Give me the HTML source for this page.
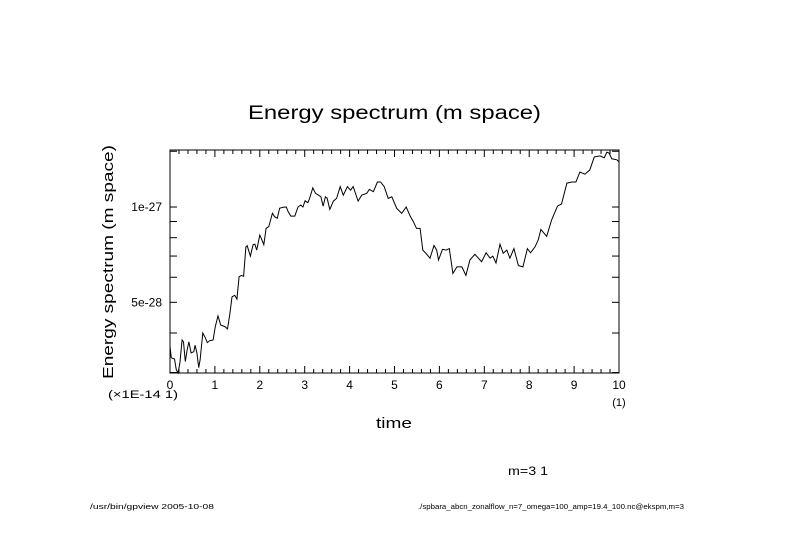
<!DOCTYPE html>
<html><head><meta charset="utf-8"><style>
html,body{margin:0;padding:0;background:#fff;}
svg{display:block;font-family:"Liberation Sans",sans-serif;}
</style></head><body>
<svg width="789" height="558" viewBox="0 0 789 558">
<text x="248" y="119" font-size="19" textLength="293" lengthAdjust="spacingAndGlyphs">Energy spectrum (m space)</text>
<text transform="translate(113,262) rotate(-90)" font-size="15" text-anchor="middle" textLength="234" lengthAdjust="spacingAndGlyphs">Energy spectrum (m space)</text>
<text x="376" y="428" font-size="15" textLength="36" lengthAdjust="spacingAndGlyphs">time</text>
<text x="108" y="398" font-size="11" textLength="70" lengthAdjust="spacingAndGlyphs">(×1E-14 1)</text>
<text x="619" y="406" font-size="11" text-anchor="middle">(1)</text>
<text x="508" y="475" font-size="12" textLength="40" lengthAdjust="spacingAndGlyphs">m=3 1</text>
<text x="90" y="509" font-size="7" textLength="124" lengthAdjust="spacingAndGlyphs">/usr/bin/gpview  2005-10-08</text>
<text x="418" y="509" font-size="7" textLength="266" lengthAdjust="spacingAndGlyphs">./spbara_abcn_zonalflow_n=7_omega=100_amp=19.4_100.nc@ekspm,m=3</text>
<g id="axes"></g>
<g id="plot"></g>
</svg>
<script>
const times=[0.0,0.03,0.10,0.14,0.18,0.22,0.27,0.30,0.34,0.38,0.42,0.47,0.53,0.56,0.60,0.64,0.67,0.73,0.79,0.83,0.88,0.96,1.01,1.07,1.13,1.22,1.28,1.33,1.38,1.44,1.49,1.54,1.59,1.64,1.69,1.72,1.79,1.85,1.89,1.93,2.00,2.03,2.09,2.14,2.20,2.28,2.33,2.39,2.44,2.52,2.59,2.63,2.69,2.78,2.85,2.91,2.96,3.01,3.07,3.11,3.18,3.24,3.31,3.36,3.41,3.46,3.50,3.56,3.64,3.71,3.79,3.86,3.95,4.02,4.08,4.19,4.27,4.38,4.44,4.53,4.62,4.69,4.77,4.86,4.94,5.05,5.16,5.26,5.35,5.42,5.49,5.57,5.63,5.70,5.79,5.88,5.94,5.98,6.07,6.15,6.22,6.30,6.39,6.50,6.59,6.68,6.79,6.94,7.04,7.13,7.19,7.26,7.35,7.42,7.50,7.57,7.66,7.76,7.86,7.96,8.03,8.13,8.20,8.26,8.39,8.50,8.63,8.72,8.84,8.95,9.04,9.13,9.24,9.35,9.45,9.58,9.67,9.73,9.78,9.84,9.95,10.0];
const energy=[3.62,3.34,3.31,3.06,2.99,3.22,3.80,3.75,3.25,3.53,3.75,3.46,3.49,3.66,3.46,3.11,3.29,4.00,3.85,3.73,3.78,3.80,4.19,4.53,4.24,4.19,4.12,4.56,5.20,5.26,5.12,6.02,6.08,6.04,7.48,7.54,7.00,7.60,7.63,7.31,8.15,7.99,7.60,8.56,8.67,9.56,9.32,9.22,9.91,9.98,10.0,9.68,9.36,9.36,10.0,10.15,10.0,10.46,10.32,10.65,11.5,11.05,10.9,10.77,10.07,10.77,10.67,9.83,10.44,10.65,11.6,10.9,11.6,11.3,11.6,10.44,10.9,11.05,11.37,11.18,12.0,12.0,11.6,10.65,10.77,9.91,9.55,10.0,9.36,8.99,8.56,8.56,7.31,7.14,6.89,7.56,7.31,6.80,7.35,7.31,7.39,6.17,6.47,6.47,6.08,6.80,7.09,6.72,7.17,6.89,7.00,6.66,7.63,7.14,7.31,6.89,7.39,6.53,6.47,7.39,7.17,7.48,7.87,8.50,8.08,9.10,10.07,10.22,11.9,12.0,12.0,12.9,12.7,13.1,14.4,14.5,14.3,14.9,14.8,14.2,14.1,13.9]; // units of 1e-28
const xTickLabels=["0","1","2","3","4","5","6","7","8","9","10"];
const yTickValues=[3,4,5,6,7,8,9,10,15];
const yTickLabels={5:"5e-28",10:"1e-27"};
const X0=170,X1=619,Y0=373,Y1=150,XMIN=0,XMAX=10,YMIN=2.99,YMAX=15.14;
const NS="http://www.w3.org/2000/svg";
function sx(t){return X0+(t-XMIN)/(XMAX-XMIN)*(X1-X0);}
function sy(v){return Y0-(Math.log10(v)-Math.log10(YMIN))/(Math.log10(YMAX)-Math.log10(YMIN))*(Y0-Y1);}
function mk(tag,attrs,parent){const e=document.createElementNS(NS,tag);for(const k in attrs)e.setAttribute(k,attrs[k]);parent.appendChild(e);return e;}
const axes=document.getElementById('axes'),plot=document.getElementById('plot');
const frame=mk('rect',{x:X0,y:Y1,width:X1-X0,height:Y0-Y1,fill:'none',stroke:'#000','stroke-width':1},axes);


for(let i=0;i<=50;i++){const t=i*0.2;const x=sx(t);const major=(i%5===0);const L=major?7:4;
 const tb=mk('line',{x1:x,x2:x,y1:Y0,y2:Y0-L,stroke:'#000'},axes);
 
 
 const tt=mk('line',{x1:x,x2:x,y1:Y1,y2:Y1+L,stroke:'#000'},axes);
 
 
 if(major){const lab=mk('text',{x:x,y:Y0+16,'font-size':12,'text-anchor':'middle'},axes);lab.textContent=xTickLabels[i/5];
  
  }
}
yTickValues.forEach(v=>{const y=sy(v);
 const tl=mk('line',{x1:X0,x2:X0+7,y1:y,y2:y,stroke:'#000'},axes);
 
 
 const tr=mk('line',{x1:X1,x2:X1-7,y1:y,y2:y,stroke:'#000'},axes);
 
 
 if(yTickLabels[v]){const lab=mk('text',{x:X0-8,y:y+4,'font-size':12,'text-anchor':'end'},axes);lab.textContent=yTickLabels[v];
  
  }
});
const pts=times.map((t,i)=>sx(t).toFixed(1)+','+Math.min(Y0,Math.max(Y1,sy(energy[i]))).toFixed(1)).join(' ');
const line=mk('polyline',{points:pts,fill:'none',stroke:'#000','stroke-width':1},plot);


</script>
</body></html>
